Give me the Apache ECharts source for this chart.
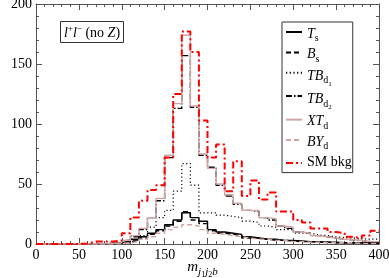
<!DOCTYPE html>
<html><head><meta charset="utf-8">
<script src="https://cdn.jsdelivr.net/npm/echarts@6/dist/echarts.min.js"></script>
<style>html,body{margin:0;padding:0;background:#fff}#c{width:389px;height:278px}</style>
</head><body><div id="c"></div>
<script>
const binEdges = [0,10,20,30,40,50,60,70,80,90,100,110,120,130,140,150,160,170,180,190,200,210,220,230,240,250,260,270,280,290,300,310,320,330,340,350,360,370,380,390];
const xTicks = [0,50,100,150,200,250,300,350,400];
const yTicks = [0,50,100,150,200];
const T_s  = [0,0,0,0,0,0,0,0,0.5,1, 2,4,6,9,12,16,20,26,22,19, 12,10,9,8,6,5,4,4,3,3, 2.5,2,2,1.5,1.5,1,1,1,1,1];
const B_s  = [0,0,0,0,0,0,0,0,0.5,1, 2,3,5,8,11,15,19,27,20,17, 11,9,8,7,5,5,4,3,3,2.5, 2,2,1.5,1.5,1,1,1,1,0.5,0.5];
const TB_d1= [0,0,0,0,0,0,0,0,0,0.5, 1,3,7,14,22,28,44,67,49,26, 26,24,23,22,19,18,15,14,12,12, 9,9,7.5,7,6,5.5,5,4.5,4,4];
const TB_d2= [0,0,0,0,0,0,0,0,0.5,1, 3,6,12,22,36,72,113,157,114,74, 64,49,40,33,28,27,22,20,15,13, 10,9,7,6,5,4,3.5,3,2,2];
const XT_d = [0,0,0,0,0,0,0,0,0.5,1, 3,7,13,22,38,74,117,174,115,75, 63,50,41,34,28,28,22,21,15,14, 10,9,7,6,5,4,3.5,3,2,2];
const BY_d = [0,0,0,0,0,0,0,0,0,0.5, 1,2,4,6,9,12,14,16,15,12, 9,8,7,6,5,4,4,3,3,2, 2,1.5,1.5,1,1,1,1,0.5,0.5,0.5];
const SM   = [0,0,0,0,0,0.5,2,2,2,3, 9,22,36,45,49,72,125,177,160,103, 72,83,44,69,40,53,37,43,27,27, 20,18,13,13,10,9,6,5,7,11];
const names = ['T_s','B_s','TB_d1','TB_d2','XT_d','BY_d','SM bkg'];

const FF = '"Liberation Serif","DejaVu Serif",serif';
function hist(vals){
  const d = binEdges.map((e,i)=>[e, vals[i]]);
  d.push([binEdges[binEdges.length-1]+10, vals[vals.length-1]]);
  return d;
}
const pink = '#d4a5a5';
const defs = [
  {n:names[0], v:T_s, c:'#000', t:'solid', w:1.4},
  {n:names[1], v:B_s, c:'#000', t:[5,3], w:1.4},
  {n:names[2], v:TB_d1, c:'#000', t:[1.2,2.5], w:1.2},
  {n:names[3], v:TB_d2, c:'#000', t:[6,2,1.5,2], w:1.4},
  {n:names[4], v:XT_d, c:pink, t:'solid', w:1.4},
  {n:names[5], v:BY_d, c:pink, t:[5,3], w:1.4},
  {n:names[6], v:SM, c:'#ff0000', t:[7,3,2,3], w:2}
];
const series = defs.map(d=>({
  name:d.n, type:'line', step:'end', data:hist(d.v), symbol:'none',
  lineStyle:{color:d.c, type:d.t, width:d.w}, itemStyle:{color:d.c},
  animation:false, z: d.n==='SM bkg'?3:2
}));
const base = {fontFamily:FF, fontWeight:'normal', color:'#000'};
const rich = {
  i:Object.assign({fontStyle:'italic', fontSize:14}, base),
  r:Object.assign({fontSize:14}, base),
  sub:Object.assign({fontSize:10, padding:[9,0,0,0]}, base),
  sub2:Object.assign({fontSize:7, padding:[15,0,0,0]}, base),
  sup:Object.assign({fontSize:9, padding:[0,0,9,0]}, base)
};
const legendText = {
  'T_s':'{i|T}{sub|s}',
  'B_s':'{i|B}{sub|s}',
  'TB_d1':'{i|TB}{sub|d}{sub2|1}',
  'TB_d2':'{i|TB}{sub|d}{sub2|2}',
  'XT_d':'{i|XT}{sub|d}',
  'BY_d':'{i|BY}{sub|d}',
  'SM bkg':'{r|SM bkg}'
};
function ax(extra){
  return Object.assign({
    type:'value', min:0, interval:50,
    axisLine:{show:true, onZero:false, lineStyle:{color:'#555', width:1}},
    axisTick:{show:true, inside:true, length:6, lineStyle:{color:'#555'}},
    minorTick:{show:true, splitNumber:5, length:3, lineStyle:{color:'#555'}},
    splitLine:{show:false}
  }, extra);
}
const chart = echarts.init(document.getElementById('c'), null, {renderer:'canvas'});
chart.setOption({
  animation:false,
  backgroundColor:'#fff',
  grid:{left:36, right:10, top:4, bottom:34, outerBoundsMode:'none', containLabel:false},
  title:{
    text:'{i|l}{sup|+}{i|l}{sup|\u2212}{r| (no }{i|Z}{r|)}',
    left:60, top:21, padding:[3,4,3,4],
    borderColor:'#333', borderWidth:1,
    textStyle:{rich:rich, fontFamily:FF, fontSize:14, fontWeight:'normal'}
  },
  legend:{
    orient:'vertical', left:282, top:22,
    padding:[5,1,3,3], itemGap:4, itemWidth:16, itemHeight:12,
    borderColor:'#333', borderWidth:1, backgroundColor:'#fff',
    data:names, selectedMode:false,
    itemStyle:{color:'rgba(0,0,0,0)', borderColor:'rgba(0,0,0,0)', borderWidth:0},
    formatter:n=>legendText[n],
    textStyle:{rich:rich, fontFamily:FF, fontSize:14, height:15, padding:[0,0,0,0]}
  },
  xAxis:[
    ax({max:400, position:'bottom',
      axisLabel:{fontFamily:FF, fontSize:14, color:'#000', margin:4, customValues:xTicks},
      name:'{i|m}{sub|j}{sub2|1}{sub|j}{sub2|2}{sub|b}', nameLocation:'middle', nameGap:11,
      nameMoveOverlap:false,
      nameTextStyle:{verticalAlign:'top', padding:[0,10,0,0], rich:{
        i:{fontFamily:FF, fontStyle:'italic', fontSize:15, color:'#000'},
        sub:{fontFamily:FF, fontStyle:'italic', fontSize:11, color:'#000', padding:[10,0,0,0]},
        sub2:{fontFamily:FF, fontSize:8, color:'#000', padding:[16,0,0,0]}
      }}
    }),
    ax({max:400, position:'top', axisLabel:{show:false}})
  ],
  yAxis:[
    ax({max:200, position:'left',
      axisLabel:{fontFamily:FF, fontSize:14, color:'#000', margin:4, customValues:yTicks},
      name:'Events / 10 GeV', nameLocation:'middle', nameGap:24,
      nameTextStyle:{fontFamily:FF, fontSize:15, color:'#000'}
    }),
    ax({max:200, position:'right', axisLabel:{show:false}})
  ],
  series:series
});
</script></body></html>
